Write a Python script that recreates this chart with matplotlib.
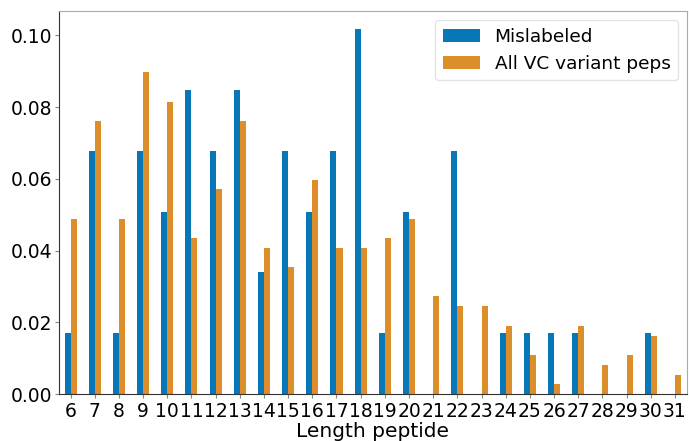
import numpy as np
import pandas as pd
import matplotlib
matplotlib.use("Agg")
import matplotlib.pyplot as plt

lengths = list(range(6, 32))
mislabeled = [0.0169, 0.0678, 0.0169, 0.0678, 0.0508, 0.0847, 0.0678, 0.0847,
              0.0339, 0.0678, 0.0508, 0.0678, 0.1017, 0.0169, 0.0508, 0.0,
              0.0678, 0.0, 0.0169, 0.0169, 0.0169, 0.0169, 0.0, 0.0, 0.0169, 0.0]
all_vc = [0.0489, 0.0761, 0.0489, 0.0897, 0.0815, 0.0435, 0.0571, 0.0761,
          0.0408, 0.0353, 0.0598, 0.0408, 0.0408, 0.0435, 0.0489, 0.0272,
          0.0245, 0.0245, 0.0190, 0.0109, 0.0027, 0.0190, 0.0082, 0.0109,
          0.0163, 0.0054]

df = pd.DataFrame({"Mislabeled": mislabeled, "All VC variant peps": all_vc},
                  index=lengths)

plt.rcParams["font.family"] = ["DejaVu Sans"]
fig, ax = plt.subplots(figsize=(6.89, 4.41), dpi=100)
fig.subplots_adjust(left=58.5 / 689, right=687 / 689, top=1 - 11 / 441,
                    bottom=1 - 394 / 441)

df.plot.bar(ax=ax, color=["#0877b8", "#dc8e2a"], rot=0, width=0.5)

ax.set_ylim(0, 0.1068)
ax.set_yticks([0.0, 0.02, 0.04, 0.06, 0.08, 0.10])
ax.set_yticklabels(["0.00", "0.02", "0.04", "0.06", "0.08", "0.10"])
ax.set_xlabel("Length peptide", fontsize=14.5, labelpad=1)
ax.tick_params(axis="both", labelsize=13.5, color="#888888", length=3)
ax.tick_params(axis="x", pad=2.5)
ax.tick_params(axis="y", pad=1.5)

ax.spines["left"].set_color("#333333")
ax.spines["bottom"].set_color("#333333")
ax.spines["top"].set_color("#aaaaaa")
ax.spines["right"].set_color("#aaaaaa")

ax.legend(fontsize=13.3, loc="upper right", fancybox=True, framealpha=0.8,
          edgecolor="#dddddd", handlelength=2.0)

fig.savefig("out.png", dpi=100)
